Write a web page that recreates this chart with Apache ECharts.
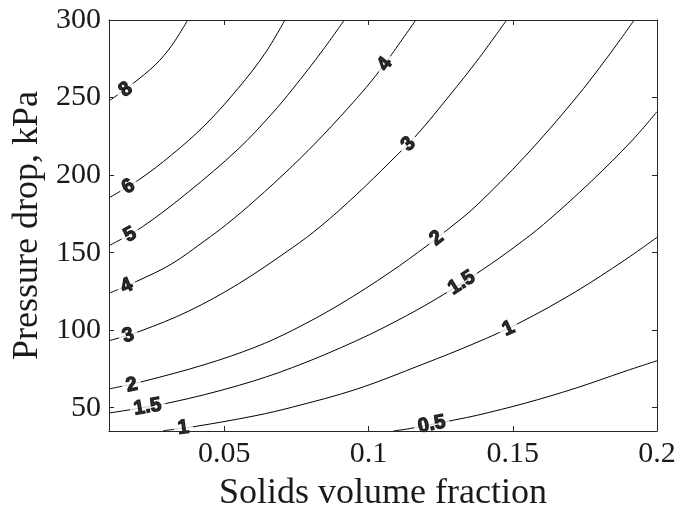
<!DOCTYPE html>
<html><head><meta charset="utf-8">
<script src="https://cdn.jsdelivr.net/npm/echarts@6/dist/echarts.min.js"></script>
<style>html,body{margin:0;padding:0;background:#fff}#c{width:678px;height:512px}</style>
</head><body><div id="c"></div>
<script>
// Axis ranges and tick labels
const xMin = 0.01, xMax = 0.2, yMin = 35, yMax = 300;
const xTicks = [0.05, 0.1, 0.15, 0.2];
const yTicks = [50, 100, 150, 200, 250, 300];
const levels = ['0.5', '1', '1.5', '2', '3', '4', '5', '6', '8'];

// Contour lines: [solids volume fraction, pressure drop kPa]
const c05 = [[0.1086,35],[0.1144,36.6],[0.13,42.2],[0.1378,45.2],[0.1542,52.9],[0.1716,62.5],[0.1889,73.5],[0.2,80.3]];
const c1  = [[0.0288,35.2],[0.0398,37.9],[0.0606,44.8],[0.0736,50.4],[0.0959,62],[0.119,78.2],[0.1369,91.6],[0.1525,104.9],[0.1716,124.6],[0.1889,145.3],[0.2,159.9]];
const c15 = [[0.01,46.6],[0.0312,53.3],[0.0548,64.3],[0.0736,75.9],[0.0959,93.3],[0.1132,109.4],[0.1259,122.9],[0.1398,139.4],[0.1508,153.9],[0.1606,168.1],[0.1774,196.3],[0.1912,222],[0.2,240.9]];
const c2  = [[0.01,62.1],[0.0219,67],[0.0433,77.9],[0.0606,89],[0.0736,99.9],[0.0901,116.7],[0.1074,137.3],[0.1202,154.4],[0.1271,164.4],[0.1369,179.5],[0.1542,212],[0.1716,249.1],[0.1831,276.7],[0.1921,300]];
const c3  = [[0.01,93.2],[0.0207,99.3],[0.0375,112.2],[0.0548,129.8],[0.0736,153.2],[0.0832,166.7],[0.0959,187.6],[0.1074,208.4],[0.1167,225.9],[0.1282,251.6],[0.1378,274.2],[0.1479,300]];
const c4  = [[0.01,123.8],[0.0196,131.5],[0.0317,142.7],[0.0433,157.8],[0.0508,168.3],[0.0606,183.7],[0.0736,205.9],[0.0843,225.9],[0.0959,249.5],[0.1022,263.4],[0.1074,276.3],[0.1164,300]];
const c5  = [[0.01,154.5],[0.0216,166.7],[0.0375,189.1],[0.0548,216.8],[0.0664,239.4],[0.0736,255.3],[0.0843,281],[0.0916,300]];
const c6  = [[0.01,185.4],[0.0202,196.8],[0.0317,213],[0.0433,232.3],[0.0548,256],[0.0641,278.5],[0.071,300]];
const c8  = [[0.01,247.8],[0.0184,259.2],[0.026,271],[0.0317,283.4],[0.0373,300]];
const contours = [c05, c1, c15, c2, c3, c4, c5, c6, c8];

// Inline contour labels: [x, pressure, level text]
const labelPos = [
  [0.0158,255,'8'],[0.0167,192.5,'6'],[0.0173,161.5,'5'],[0.0161,128.5,'4'],
  [0.0167,96.5,'3'],[0.0179,64.5,'2'],[0.0234,50.5,'1.5'],[0.0358,37,'1'],
  [0.1057,271.5,'4'],[0.1138,220,'3'],[0.1236,159.3,'2'],[0.1323,130.5,'1.5'],
  [0.1485,101,'1'],[0.1219,39.3,'0.5']
];

const axisColor = '#262626';
const textColor = '#1a1a1a';
const serif = 'Liberation Serif';
function baseAxis(extra) {
  return Object.assign({
    type: 'value',
    axisLine: { show: true, onZero: false, lineStyle: { color: axisColor, width: 1 } },
    splitLine: { show: false },
    z: 5
  }, extra);
}

const chart = echarts.init(document.getElementById('c'), null, { renderer: 'canvas' });
const lineSeries = contours.map((pts, i) => ({
  type: 'line', name: levels[i], data: pts,
  xAxisIndex: 0, yAxisIndex: 0,
  showSymbol: false, symbol: 'none', smooth: 0.35,
  lineStyle: { color: '#000', width: 1 }, silent: true, z: 2
}));
const option = {
  backgroundColor: '#fff',
  animation: false,
  grid: { left: 109, top: 20, width: 548, height: 411, containLabel: false, outerBoundsMode: 'none' },
  xAxis: [
    baseAxis({
      min: xMin, max: xMax, position: 'bottom',
      axisTick: { show: true, inside: true, length: 5, customValues: xTicks, lineStyle: { color: axisColor } },
      axisLabel: { show: true, customValues: xTicks, fontFamily: serif, fontSize: 30, color: textColor, margin: 8, formatter: v => String(v) },
      name: 'Solids volume fraction', nameLocation: 'middle', nameGap: 45,
      nameTextStyle: { fontFamily: serif, fontSize: 36, color: textColor }
    }),
    baseAxis({
      min: xMin, max: xMax, position: 'top',
      axisTick: { show: true, inside: true, length: 5, customValues: xTicks, lineStyle: { color: axisColor } },
      axisLabel: { show: false }
    })
  ],
  yAxis: [
    baseAxis({
      min: yMin, max: yMax, position: 'left',
      axisTick: { show: true, inside: true, length: 5, customValues: yTicks, lineStyle: { color: axisColor } },
      axisLabel: { show: true, customValues: yTicks, fontFamily: serif, fontSize: 30, color: textColor, margin: 8, formatter: v => String(v) },
      name: 'Pressure drop, kPa', nameLocation: 'middle', nameGap: 62,
      nameTextStyle: { fontFamily: serif, fontSize: 36, color: textColor }
    }),
    baseAxis({
      min: yMin, max: yMax, position: 'right',
      axisTick: { show: true, inside: true, length: 5, customValues: yTicks, lineStyle: { color: axisColor } },
      axisLabel: { show: false }
    })
  ],
  series: lineSeries
};
chart.setOption(option);

// label rotation from the local slope of its contour in pixel space
function toPx(p) {
  let r = null;
  try { r = chart.convertToPixel({ xAxisIndex: 0, yAxisIndex: 0 }, p); } catch (e) { r = null; }
  if (!r) { try { r = chart.convertToPixel({ seriesIndex: 0 }, p); } catch (e) { r = null; } }
  return r;
}
const labelData = labelPos.map(([x, y, t]) => {
  const pts = contours[levels.indexOf(t)];
  let i = 0;
  while (i < pts.length - 2 && pts[i + 1][0] < x) i++;
  const p1 = toPx(pts[i]);
  const p2 = toPx(pts[i + 1]);
  let ang = 0;
  if (p1 && p2) ang = Math.atan2(-(p2[1] - p1[1]), p2[0] - p1[0]) * 180 / Math.PI;
  return { value: [x, y], name: t, label: { rotate: ang } };
});

chart.setOption({
  series: lineSeries.concat([{
    type: 'scatter', data: labelData, symbol: 'circle', symbolSize: 2,
    itemStyle: { color: 'rgba(0,0,0,0)' },
    xAxisIndex: 0, yAxisIndex: 0, z: 3, clip: false, silent: true,
    label: {
      show: true, position: 'inside', formatter: p => p.name,
      fontFamily: 'Liberation Sans', fontWeight: 'bold', fontSize: 20, color: '#000',
      textBorderColor: '#000', textBorderWidth: 1.2,
      backgroundColor: '#fff', padding: [0, 4], lineHeight: 19
    },
    labelLayout: { hideOverlap: false }
  }])
});
</script></body></html>
